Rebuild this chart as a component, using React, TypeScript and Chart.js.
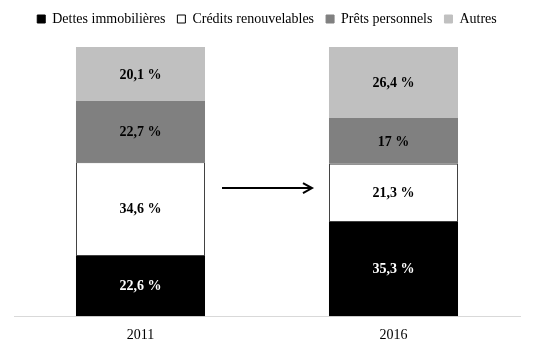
import React, { useEffect, useRef } from "react";
import { Chart, registerables } from "chart.js";

Chart.register(...registerables);

const categories = ["2011", "2016"];
const seriesNames = ["Dettes immobilières", "Crédits renouvelables", "Prêts personnels", "Autres"];
const dettes = [22.6, 35.3];
const credits = [34.6, 21.3];
const prets = [22.7, 17];
const autres = [20.1, 26.4];
const labelsDettes = ["22,6 %", "35,3 %"];
const labelsCredits = ["34,6 %", "21,3 %"];
const labelsPrets = ["22,7 %", "17 %"];
const labelsAutres = ["20,1 %", "26,4 %"];

const FONT = "'Liberation Serif', 'DejaVu Serif', serif";

const legendSpacer = {
  id: "legendSpacer",
  afterInit(chart: any) {
    const lg = chart.legend;
    if (!lg) return;
    const orig = lg.fit;
    lg.fit = function () {
      orig.call(this);
      this.height += 11;
    };
  },
};

const labelPlugin = {
  id: "segLabels",
  afterDatasetsDraw(chart: any) {
    const ctx = chart.ctx;
    ctx.save();
    ctx.font = `bold 14px ${FONT}`;
    ctx.textAlign = "center";
    ctx.textBaseline = "middle";
    chart.data.datasets.forEach((ds: any, di: number) => {
      const meta = chart.getDatasetMeta(di);
      meta.data.forEach((el: any, i: number) => {
        const y = (el.y + el.base) / 2;
        ctx.fillStyle = ds.labelColor;
        ctx.fillText(ds.valueLabels[i], el.x, y + 1);
      });
    });
    // arrow between the two bars
    const m = chart.getDatasetMeta(0);
    const a = m.data[0];
    const b = m.data[1];
    const half = a.width / 2;
    const x1 = a.x + half + 17;
    const x2 = b.x - half - 17;
    const yScale = chart.scales.y;
    const y = yScale.getPixelForValue(47.6);
    ctx.strokeStyle = "#000";
    ctx.lineWidth = 2;
    ctx.beginPath();
    ctx.moveTo(x1, y);
    ctx.lineTo(x2, y);
    ctx.stroke();
    ctx.beginPath();
    ctx.moveTo(x2 - 9, y - 5);
    ctx.lineTo(x2, y);
    ctx.lineTo(x2 - 9, y + 5);
    ctx.stroke();
    ctx.restore();
  },
};

export default function App() {
  const ref = useRef<HTMLCanvasElement>(null);
  useEffect(() => {
    const chart = new Chart(ref.current!, {
      type: "bar",
      data: {
        labels: categories,
        datasets: [
          { label: seriesNames[0], data: dettes, backgroundColor: "#000000", borderColor: "#000000", borderWidth: 0, valueLabels: labelsDettes, labelColor: "#ffffff" } as any,
          { label: seriesNames[1], data: credits, backgroundColor: "#ffffff", borderColor: "#404040", borderWidth: 1, valueLabels: labelsCredits, labelColor: "#000000" } as any,
          { label: seriesNames[2], data: prets, backgroundColor: "#808080", borderColor: "#808080", borderWidth: 0, valueLabels: labelsPrets, labelColor: "#000000" } as any,
          { label: seriesNames[3], data: autres, backgroundColor: "#c0c0c0", borderColor: "#c0c0c0", borderWidth: 0, valueLabels: labelsAutres, labelColor: "#000000" } as any,
        ],
      },
      options: {
        responsive: false,
        animation: false,
        layout: { padding: { left: 14, right: 15, top: 0, bottom: 5 } },
        datasets: { bar: { barPercentage: 1, categoryPercentage: 0.51 } },
        plugins: {
          tooltip: { enabled: false },
          legend: {
            position: "top",
            labels: {
              font: { family: FONT, size: 14 },
              color: "#000",
              boxWidth: 8,
              boxHeight: 8,
              padding: 12,
              generateLabels: (c: any) =>
                c.data.datasets.map((ds: any, i: number) => ({
                  text: ds.label,
                  fillStyle: ds.backgroundColor,
                  strokeStyle: i === 1 ? "#000" : ds.backgroundColor,
                  lineWidth: 1,
                  hidden: false,
                  datasetIndex: i,
                })),
            },
          },
        },
        scales: {
          x: {
            stacked: true,
            grid: { display: false },
            border: { display: true, color: "#d9d9d9", width: 1 },
            ticks: { font: { family: FONT, size: 14 }, color: "#000", padding: 3 },
          },
          y: { stacked: true, min: 0, max: 100, display: false },
        },
      },
      plugins: [legendSpacer, labelPlugin],
    } as any);
    return () => chart.destroy();
  }, []);
  return (
    <div style={{ position: "absolute", left: 0, top: 0, width: 535, height: 352, background: "#fff" }}>
      <canvas ref={ref} width={535} height={352} />
    </div>
  );
}
